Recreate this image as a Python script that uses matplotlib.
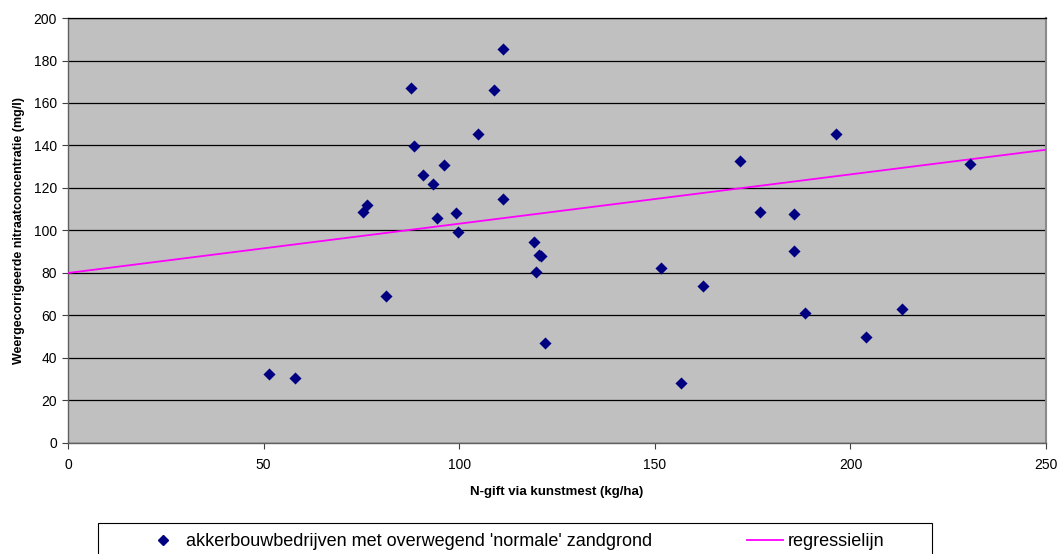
import matplotlib.pyplot as plt
from matplotlib.lines import Line2D
from matplotlib.patches import Rectangle

plt.rcParams['font.family'] = ['Liberation Sans', 'DejaVu Sans']

# N-gift (kg/ha) en nitraatconcentratie (mg/l)
n_gift = [51.3, 57.9, 75.5, 76.3, 81.2, 87.6, 88.4, 90.7, 93.2, 94.2,
          96.0, 99.3, 99.6, 104.9, 109.0, 111.3, 111.3, 119.2, 119.5, 120.3,
          121.0, 122.0, 151.7, 156.8, 162.4, 171.7, 177.0, 185.7, 185.7, 188.5,
          196.2, 204.1, 213.1, 230.5]
nitraat = [32.5, 30.5, 108.7, 112.0, 69.0, 167.2, 139.6, 126.3, 122.0, 105.9,
           130.8, 108.2, 99.3, 145.4, 166.1, 185.2, 114.6, 94.6, 80.5, 88.6,
           88.0, 47.1, 82.4, 28.4, 74.1, 132.6, 108.9, 107.6, 90.4, 61.2,
           145.4, 50.0, 63.2, 131.3]

# regressielijn
reg_x = [0, 250]
reg_y = [80.0, 138.0]

fig = plt.figure(figsize=(10.58, 5.54), dpi=100)
ax = fig.add_axes([0.0643, 0.2004, 0.9244, 0.7671])
ax.set_facecolor('#C0C0C0')

ax.plot(reg_x, reg_y, color='#FF00FF', lw=1.3, zorder=3)
ax.scatter(n_gift, nitraat, marker='D', s=38, color='#000080', zorder=4, linewidths=0)

ax.set_xlim(0, 250)
ax.set_ylim(0, 200)
ax.set_xticks(range(0, 251, 50))
ax.set_yticks(range(0, 201, 20))
ax.yaxis.grid(True, color='black', lw=0.9)
ax.set_axisbelow(True)
ax.tick_params(labelsize=10, length=4, width=0.8, color='#404040')
ax.tick_params(axis='x', pad=7)
ax.tick_params(axis='y', pad=4)
for s in ['left', 'bottom']:
    ax.spines[s].set_color('#606060')
    ax.spines[s].set_linewidth(1.0)
ax.spines['top'].set_color('black')
ax.spines['top'].set_linewidth(0.9)
ax.spines['right'].set_color('#8a8a8a')
ax.spines['right'].set_linewidth(1.5)

ax.set_xlabel('N-gift via kunstmest (kg/ha)', fontsize=9.5, fontweight='bold', labelpad=10)
ax.set_ylabel('Weergecorrigeerde nitraatconcentratie (mg/l)', fontsize=9, fontweight='bold', labelpad=6)

# legenda-kader loopt door tot onder de rand
fig.patches.append(Rectangle((98 / 1058, -0.05), (932 - 98) / 1058, 0.05 + 31 / 554,
                             transform=fig.transFigure, fill=False,
                             edgecolor='black', lw=0.8))

handles = [
    Line2D([], [], marker='D', ls='none', color='#000080', markersize=5),
    Line2D([], [], color='#FF00FF', lw=1.3),
]
labels = ["akkerbouwbedrijven met overwegend 'normale' zandgrond", 'regressielijn']
fig.legend(handles, labels, loc='upper left', bbox_to_anchor=(145 / 1058, 21 / 554),
           ncol=2, fontsize=13, frameon=False, borderpad=0, borderaxespad=0,
           handlelength=2.0, handletextpad=0.28, columnspacing=5.25)

fig.savefig('out.png', dpi=100)
